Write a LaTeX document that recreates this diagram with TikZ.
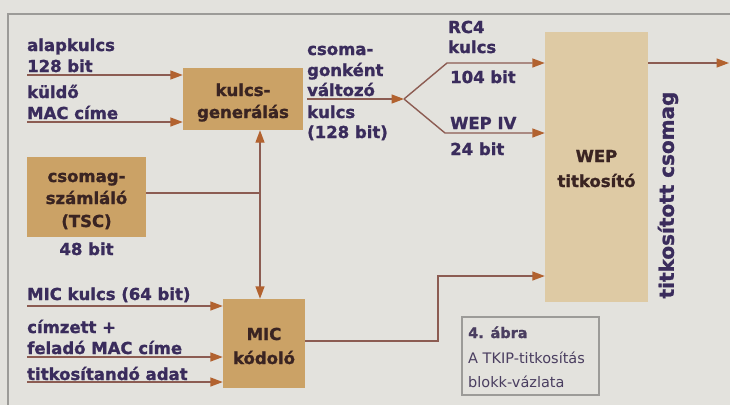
\documentclass[tikz,border=0pt]{standalone}
\usepackage{fontspec}
\setmainfont{DejaVu Sans}[BoldFeatures={FakeBold=1.3}]
\usetikzlibrary{arrows.meta}
\definecolor{bg}{HTML}{E3E2DD}
\definecolor{frame}{HTML}{9C9B98}
\definecolor{boxc}{HTML}{CBA266}
\definecolor{wepc}{HTML}{DECAA4}
\definecolor{txt}{HTML}{3A2C5C}
\definecolor{boxtxt}{HTML}{3A2422}
\definecolor{linec}{HTML}{8C5C52}
\definecolor{tipc}{HTML}{B2622F}
\definecolor{captxt}{HTML}{4A3E60}
\begin{document}
\begin{tikzpicture}[x=1pt,y=-1pt,
  lbl/.style={anchor=base west, inner sep=0pt, text=txt, font=\bfseries\fontsize{16.5}{20}\selectfont},
  blbl/.style={anchor=base, inner sep=0pt, text=boxtxt, font=\bfseries\fontsize{16.5}{20}\selectfont},
  captext/.style={anchor=base west, inner sep=0pt, text=captxt, font=\fontsize{14.5}{18}\selectfont},
  boxd/.style={fill=boxc, inner sep=0pt, draw=none},
  ln/.style={draw=linec, line width=1.4pt},
  arr/.style={ln, -{Triangle[length=12.5pt,width=9pt,color=tipc]}}]
\useasboundingbox (0,0) rectangle (730,405);
\fill[bg] (0,0) rectangle (730,405);
\draw[frame, line width=1.5pt] (730,14) -- (8,14) -- (8,405);

% boxes
\node[boxd, minimum width=120pt, minimum height=62pt] (kg) at (243,99) {};
\node[boxd, minimum width=119pt, minimum height=80pt] (cs) at (86.5,197) {};
\node[boxd, minimum width=82pt, minimum height=89pt] (mic) at (264,343.5) {};
\node[fill=wepc, inner sep=0pt, minimum width=103pt, minimum height=270pt] (wep) at (596.5,167) {};
\node[draw=frame, line width=1.2pt, fill=bg, minimum width=137pt, minimum height=78pt, inner sep=0pt] (capbox) at (530.5,356) {};

% box texts
\node[blbl] (kg1) at (243,96) {kulcs-};
\node[blbl] (kg2) at (243,118) {generálás};
\node[blbl] (cs1) at (86.5,182) {csomag-};
\node[blbl] (cs2) at (86.5,204) {számláló};
\node[blbl] (cs3) at (86.5,227) {(TSC)};
\node[blbl, text=txt] (b48) at (86.5,255) {48 bit};
\node[blbl] (mic1) at (264,340) {MIC};
\node[blbl] (mic2) at (264,364) {kódoló};
\node[blbl] (wep1) at (596.5,162) {WEP};
\node[blbl] (wep2) at (596.5,187) {titkosító};

% input labels
\node[lbl] (t1) at (27,51) {alapkulcs};
\node[lbl] (t2) at (27,72) {128 bit};
\node[lbl] (t3) at (27,98) {küldő};
\node[lbl] (t4) at (27,119) {MAC címe};
\node[lbl] (t5) at (27,300) {MIC kulcs (64 bit)};
\node[lbl] (t6) at (27,333) {címzett +};
\node[lbl] (t7) at (27,354) {feladó MAC címe};
\node[lbl] (t8) at (27,380) {titkosítandó adat};

% middle labels
\node[lbl] (m1) at (307,55) {csoma-};
\node[lbl] (m2) at (307,76) {gonként};
\node[lbl] (m3) at (307,96) {változó};
\node[lbl] (m4) at (307,118) {kulcs};
\node[lbl] (m5) at (307,138) {(128 bit)};

\node[lbl] (r1) at (448,33) {RC4};
\node[lbl] (r2) at (448,53) {kulcs};
\node[lbl] (r3) at (450,83) {104 bit};
\node[lbl] (r4) at (450,129) {WEP IV};
\node[lbl] (r5) at (450,155) {24 bit};

\node[inner sep=0pt, text=txt, font=\bfseries\fontsize{20}{22}\selectfont, rotate=90] (vt) at (668,195) {titkosított csomag};

% caption
\node[captext, font=\bfseries\fontsize{14.5}{18}\selectfont] (c1) at (468,338) {4. ábra};
\node[captext] (c2) at (468,363) {A TKIP-titkosítás};
\node[captext] (c3) at (468,387) {blokk-vázlata};

% coordinates
\coordinate (s1) at (27,75);
\coordinate (s2) at (27,122);
\coordinate (s5) at (27,306);
\coordinate (s7) at (27,357);
\coordinate (s8) at (27,382);
\coordinate (f0) at (307,99);
\coordinate (fp) at (404,99);
\coordinate (fu) at (447,63);
\coordinate (fl) at (445,133);
\coordinate (j) at (260,193);
\coordinate (mo) at (305,341);
\coordinate (mb) at (438,341);
\coordinate (mt) at (438,276);
\coordinate (wo) at (648,63);
\coordinate (oe) at (729,63);

% connectors
\draw[arr] (s1) -- (s1 -| kg.west);
\draw[arr] (s2) -- (s2 -| kg.west);
\draw[arr] (s5) -- (s5 -| mic.west);
\draw[arr] (s7) -- (s7 -| mic.west);
\draw[arr] (s8) -- (s8 -| mic.west);
\draw[ln] (j -| cs.east) -- (j);
\draw[arr] (j) -- (j |- kg.south);
\draw[arr] (j) -- (j |- mic.north);
\draw[arr] (f0) -- (fp);
\draw[arr] (fp) -- (fu) -- (fu -| wep.west);
\draw[arr] (fp) -- (fl) -- (fl -| wep.west);
\draw[arr] (mo) -- (mb) -- (mt) -- (mt -| wep.west);
\draw[arr] (wo) -- (oe);
\end{tikzpicture}
\end{document}
